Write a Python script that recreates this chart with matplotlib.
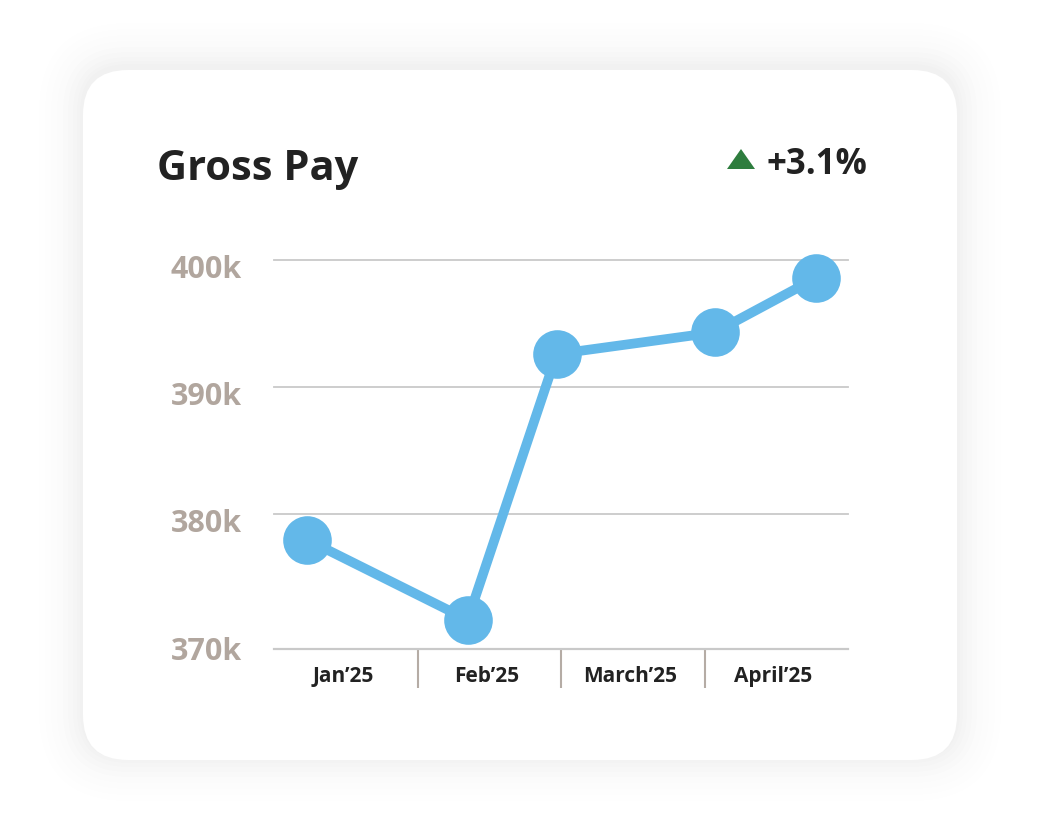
import matplotlib
matplotlib.use("Agg")
import matplotlib.pyplot as plt
from matplotlib.patches import FancyBboxPatch, Polygon
from matplotlib.transforms import ScaledTranslation, blended_transform_factory

plt.rcParams['font.family'] = ['Open Sans', 'DejaVu Sans']

# ---- data ----
title = "Gross Pay"
change_text = "+3.1%"
categories = ["Jan\u201925", "Feb\u201925", "March\u201925", "April\u201925"]
# x positions in months from start of Jan'25 (0..4), y in thousands
point_x = [0.23, 1.35, 1.97, 3.07, 3.78]
point_y = [378.0, 371.7, 392.6, 394.3, 398.6]
ytick_values = [380, 390, 400]
ytick_labels = ["380k", "390k", "400k"]
y_floor = 369.4
y_floor_label = "370k"
y_top = 400.0

W, H = 1040, 832
DPI = 100
fig = plt.figure(figsize=(W / DPI, H / DPI), dpi=DPI)
fig.patch.set_facecolor("white")

def px(x, y):
    return x / W, 1 - y / H

# ---- card with soft shadow ----
cx0, cy0, cx1, cy1 = 83, 70, 957, 760
shadow_layers = [(44, 0.004), (38, 0.004), (32, 0.005), (26, 0.005), (20, 0.006),
                 (15, 0.006), (10, 0.007), (6, 0.007), (3, 0.007)]
for pad, a in shadow_layers:
    r = 45 + pad
    sh = FancyBboxPatch((cx0 - pad, H - cy1 - pad + 3), (cx1 - cx0) + 2 * pad, (cy1 - cy0) + 2 * pad,
                        boxstyle=f"round,pad=0,rounding_size={r}",
                        transform=None, facecolor="#50506a", edgecolor="none", alpha=a, zorder=0)
    fig.patches.append(sh)
card = FancyBboxPatch((cx0, H - cy1), cx1 - cx0, cy1 - cy0,
                      boxstyle="round,pad=0,rounding_size=45",
                      transform=None, facecolor="white", edgecolor="none", zorder=1)
fig.patches.append(card)

# ---- axes ----
ax_l, ax_r, ax_t, ax_b = 274, 848, 260, 649
ax = fig.add_axes([ax_l / W, 1 - ax_b / H, (ax_r - ax_l) / W, (ax_b - ax_t) / H])
ax.set_facecolor("none")
ax.set_zorder(2)
ax.set_xlim(0, len(categories))
ax.set_ylim(y_floor, y_top)

grid_c = "#c9c9c9"
for v in ytick_values:
    ax.axhline(v, color=grid_c, lw=1.3, zorder=1, clip_on=False)

for s in ["top", "right", "left"]:
    ax.spines[s].set_visible(False)
ax.spines["bottom"].set_color(grid_c)
ax.spines["bottom"].set_linewidth(1.6)

ax.set_yticks([])
# separators between categories
ax.set_xticks(range(1, len(categories)), minor=False)
ax.set_xticklabels([])
ax.tick_params(axis="x", which="major", length=28, width=1.5, color="#b5aca5", direction="out")
# category labels
ax.set_xticks([i + 0.48 for i in range(len(categories))], minor=True)
ax.set_xticklabels(categories, minor=True, fontsize=15, fontweight="bold", color="#222222")
ax.tick_params(axis="x", which="minor", length=0, pad=12)

# y labels, offset a bit below their gridlines
ytr = blended_transform_factory(ax.transAxes, ax.transData)
for v, lab in zip(ytick_values, ytick_labels):
    ax.text(0, v, lab, transform=ytr + ScaledTranslation(-0.32, -0.10, fig.dpi_scale_trans),
            ha="right", va="center", fontsize=22, fontweight="bold", color="#b1a69e")
ax.text(0, y_floor, y_floor_label, transform=ytr + ScaledTranslation(-0.32, -0.03, fig.dpi_scale_trans),
        ha="right", va="center", fontsize=22, fontweight="bold", color="#b1a69e")

# line + markers
line_c = "#63b8e9"
ax.plot(point_x, point_y, color=line_c, lw=7, solid_capstyle="round", zorder=3, clip_on=False)
ax.plot(point_x, point_y, "o", color=line_c, markersize=35, markeredgewidth=0, zorder=4, clip_on=False)

# ---- header ----
fig.text(*px(157, 180), title, fontsize=30, fontweight="bold", color="#222222", ha="left", va="baseline")
fig.text(*px(767, 174), change_text, fontsize=25, fontweight="bold", color="#222222", ha="left", va="baseline")
tri = Polygon([px(727, 169), px(755, 169), px(741, 149)], closed=True, transform=fig.transFigure,
              facecolor="#2e7d3e", edgecolor="none")
fig.patches.append(tri)

fig.savefig("out.png", dpi=DPI, facecolor="white")
